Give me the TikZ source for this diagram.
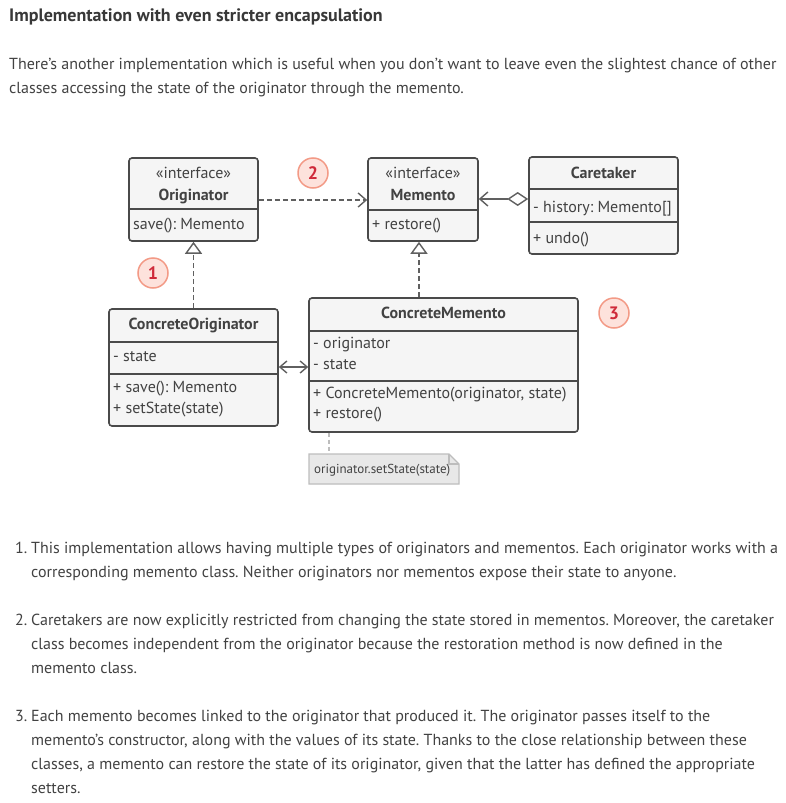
\documentclass[tikz,border=0pt]{standalone}
\usepackage{fontspec}
\setmainfont{PT Sans}
\usepackage{xcolor}
\usetikzlibrary{arrows.meta}
\frenchspacing

\definecolor{textc}{HTML}{424242}
\definecolor{titlec}{HTML}{383838}
\definecolor{linec}{HTML}{4A4A4A}
\definecolor{arrowc}{HTML}{606060}
\definecolor{boxfill}{HTML}{F5F5F5}
\definecolor{notefill}{HTML}{E8E8E8}
\definecolor{notedraw}{HTML}{BDBDBD}
\definecolor{badgefill}{HTML}{FDE2DC}
\definecolor{badgedraw}{HTML}{F39A86}
\definecolor{badgetext}{HTML}{CF2A3A}

\tikzset{
  umlbox/.style={draw=linec, fill=boxfill, line width=1.6pt, rounded corners=3pt, inner sep=0pt},
  divider/.style={draw=linec, line width=1.6pt},
  boxtext/.style={inner sep=0pt, anchor=base west, text=textc, font=\fontsize{16}{18}\selectfont},
  boxmid/.style={boxtext, anchor=base},
  boxhead/.style={boxmid, font=\fontsize{16}{18}\selectfont\bfseries},
  para/.style={anchor=base west, inner sep=0pt, text=textc, font=\fontsize{16}{18}\selectfont},
  badge/.style={circle, fill=badgefill, draw=badgedraw, line width=1.5pt, minimum size=30pt, inner sep=0pt,
    text=badgetext, font=\fontsize{18}{18}\selectfont\bfseries},
  depends/.style={draw=arrowc, line width=1.4pt, dash pattern=on 5pt off 3pt, -{Straight Barb[length=8pt, width=14pt]}},
  realizes/.style={draw=arrowc, line width=1.4pt, dash pattern=on 5pt off 3pt, -{Triangle[open, length=12pt, width=17pt, fill=white]}},
  aggregates/.style={draw=arrowc, line width=1.4pt, {Diamond[open, length=21pt, width=14pt, fill=white]}-{Straight Barb[length=8pt, width=14pt]}},
  links/.style={draw=arrowc, line width=1.4pt, {Straight Barb[length=7pt, width=12pt]}-{Straight Barb[length=7pt, width=12pt]}},
}

\begin{document}
\begin{tikzpicture}[x=1pt, y=-1pt]
  \useasboundingbox[fill=white] (0,0) rectangle (785,803);

  % heading and intro
  \node[para, text=titlec, font=\fontsize{18}{20}\selectfont\bfseries] (title) at (9,21) {Implementation with even stricter encapsulation};
  \node[para] (intro1) at (9,69) {There’s another implementation which is useful when you don’t want to leave even the slightest chance of other};
  \node[para] (intro2) at (9,93) {classes accessing the state of the originator through the memento.};

  % Originator
  \node[umlbox, minimum width=129pt, minimum height=83pt] (orig) at (193.5,199.5) {};
  \draw[divider] (129,209) -- (258,209);
  \node[boxmid] (origst) at (193.5,178) {«interface»};
  \node[boxhead] (origname) at (193.5,200) {Originator};
  \node[boxtext] (origsave) at (133,229) {save(): Memento};

  % Memento
  \node[umlbox, minimum width=110pt, minimum height=83pt] (mem) at (423,199.5) {};
  \draw[divider] (368,210) -- (478,210);
  \node[boxmid] (memst) at (423,178) {«interface»};
  \node[boxhead] (memname) at (423,200) {Memento};
  \node[boxtext] (memrest) at (372,229) {+ restore()};

  % Caretaker
  \node[umlbox, minimum width=149pt, minimum height=97pt] (care) at (603.5,205.5) {};
  \draw[divider] (529,189) -- (678,189);
  \draw[divider] (529,222) -- (678,222);
  \node[boxhead] (carename) at (603.5,178) {Caretaker};
  \node[boxtext] (carehist) at (533,212) {- history: Memento[]};
  \node[boxtext] (careundo) at (533,243) {+ undo()};

  % ConcreteOriginator
  \node[umlbox, minimum width=169pt, minimum height=117pt] (corig) at (193.5,367.5) {};
  \draw[divider] (109,342) -- (278,342);
  \draw[divider] (109,374) -- (278,374);
  \node[boxhead] (corigname) at (193.5,329) {ConcreteOriginator};
  \node[boxtext] (corigstate) at (113,361) {- state};
  \node[boxtext] (corigsave) at (113,392) {+ save(): Memento};
  \node[boxtext] (corigset) at (113,413) {+ setState(state)};

  % ConcreteMemento
  \node[umlbox, minimum width=269pt, minimum height=134pt] (cmem) at (443.5,365) {};
  \draw[divider] (309,331) -- (578,331);
  \draw[divider] (309,381) -- (578,381);
  \node[boxhead] (cmemname) at (443.5,318) {ConcreteMemento};
  \node[boxtext] (cmemorig) at (313,348) {- originator};
  \node[boxtext] (cmemstate) at (313,369) {- state};
  \node[boxtext] (cmemctor) at (313,398) {+ ConcreteMemento(originator, state)};
  \node[boxtext] (cmemrest) at (313,418) {+ restore()};

  % note
  \draw[draw=notedraw, fill=notefill, line width=1.3pt] (309,454) -- (449,454) -- (459,464) -- (459,484) -- (309,484) -- cycle;
  \draw[draw=notedraw, line width=1.3pt] (449,454) -- (449,464) -- (459,464);
  \node[boxtext, font=\fontsize{13}{15}\selectfont] (note) at (314,473.5) {originator.setState(state)};
  \coordinate (notetop) at (329,453);
  \draw[draw=notedraw, line width=1.3pt, dash pattern=on 4pt off 3pt] (cmem.south -| notetop) -- (notetop);

  % connectors
  \draw[depends] (orig.east |- 0,200) -- (mem.west |- 0,200);
  \draw[realizes] (corig.north) -- (orig.south);
  \draw[realizes] (cmem.north -| 419,0) -- (mem.south -| 419,0);
  \draw[aggregates] (care.west |- 0,199) -- (mem.east |- 0,199);
  \draw[links] (corig.east |- 0,367) -- (cmem.west |- 0,367);

  % badges
  \node[badge] (b1) at (153,273) {1};
  \node[badge] (b2) at (313,173) {2};
  \node[badge] (b3) at (614,313) {3};

  % list
  \node[para] (n1) at (15,553) {1.};
  \node[para] (l1a) at (31,553) {This implementation allows having multiple types of originators and mementos. Each originator works with a};
  \node[para] (l1b) at (31,577) {corresponding memento class. Neither originators nor mementos expose their state to anyone.};
  \node[para] (n2) at (15,625) {2.};
  \node[para] (l2a) at (31,625) {Caretakers are now explicitly restricted from changing the state stored in mementos. Moreover, the caretaker};
  \node[para] (l2b) at (31,649) {class becomes independent from the originator because the restoration method is now defined in the};
  \node[para] (l2c) at (31,673) {memento class.};
  \node[para] (n3) at (15,721) {3.};
  \node[para] (l3a) at (31,721) {Each memento becomes linked to the originator that produced it. The originator passes itself to the};
  \node[para] (l3b) at (31,745) {memento’s constructor, along with the values of its state. Thanks to the close relationship between these};
  \node[para] (l3c) at (31,769) {classes, a memento can restore the state of its originator, given that the latter has defined the appropriate};
  \node[para] (l3d) at (31,793) {setters.};
\end{tikzpicture}
\end{document}
